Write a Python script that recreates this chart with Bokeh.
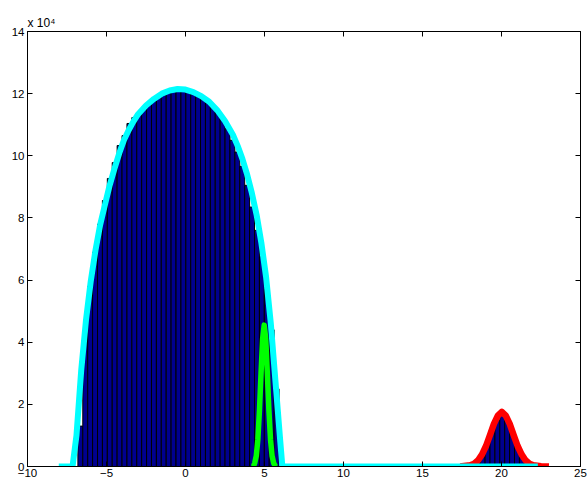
from bokeh.plotting import figure
from bokeh.models import LinearAxis, FixedTicker, Range1d
from bokeh.embed import file_html
from bokeh.resources import INLINE

# ---- data (y values in units of 10^4) ----
bin_width = 0.3105
main_centers = [-6.655, -6.345, -6.034, -5.724, -5.413, -5.103, -4.792, -4.482, -4.171, -3.861,
                -3.550, -3.240, -2.929, -2.619, -2.308, -1.998, -1.687, -1.377, -1.066, -0.756,
                -0.445, -0.135, 0.176, 0.486, 0.797, 1.107, 1.418, 1.728, 2.039, 2.349,
                2.660, 2.970, 3.281, 3.591, 3.902, 4.212, 4.523, 4.833, 5.144, 5.454, 5.765]
main_counts = [1.3, 4.3, 5.8, 6.9, 7.8, 8.56, 9.27, 9.78, 10.33, 10.65,
               11.04, 11.23, 11.39, 11.56, 11.71, 11.84, 11.94, 12.02, 12.07, 12.10,
               12.11, 12.09, 12.05, 11.99, 11.91, 11.81, 11.70, 11.57, 11.40, 11.19,
               10.87, 10.50, 10.12, 9.66, 9.05, 8.35, 7.6, 6.75, 5.7, 4.4, 2.5]
bump_centers = [18.496, 18.806, 19.117, 19.427, 19.738, 20.048, 20.359, 20.669, 20.980, 21.290, 21.601]
bump_counts = [0.16, 0.37, 0.71, 1.13, 1.49, 1.64, 1.49, 1.13, 0.71, 0.37, 0.16]

cyan_x = [-8.02, -7.15, -6.9, -6.6, -6.3, -6.0, -5.7, -5.4, -5.1, -4.8,
          -4.5, -4.2, -3.9, -3.6, -3.3, -3.0, -2.5, -2.0, -1.5, -1.0,
          -0.5, 0.0, 0.5, 1.0, 1.5, 2.0, 2.5, 3.0, 3.3, 3.6,
          3.9, 4.2, 4.5, 4.8, 5.1, 5.4, 5.7, 6.0, 6.13, 22.3]
cyan_y = [0, 0, 1.0, 3.1, 4.7, 5.95, 6.95, 7.78, 8.42, 9.05,
          9.58, 10.07, 10.5, 10.82, 11.1, 11.34, 11.62, 11.83, 12.0, 12.1,
          12.15, 12.13, 12.05, 11.92, 11.74, 11.47, 11.12, 10.68, 10.32, 9.9,
          9.4, 8.8, 8.1, 7.2, 6.1, 4.6, 2.7, 0.8, 0, 0]

green_x = [4.30, 4.38, 4.48, 4.58, 4.68, 4.78, 4.88, 4.98, 5.08, 5.18, 5.28, 5.38, 5.48, 5.58, 5.70]
green_y = [0.0, 0.11, 0.34, 0.87, 1.8, 3.0, 4.1, 4.55, 4.1, 3.0, 1.8, 0.87, 0.34, 0.11, 0.0]

red_x = [17.4, 17.5, 18.02, 18.27, 18.52, 18.77, 19.02, 19.27, 19.52, 19.77, 20.02,
         20.27, 20.52, 20.77, 21.02, 21.27, 21.52, 21.77, 22.02, 22.5, 23.0]
red_y = [0, 0.01, 0.04, 0.09, 0.20, 0.39, 0.66, 1.01, 1.37, 1.64, 1.76,
         1.64, 1.37, 1.01, 0.66, 0.39, 0.20, 0.09, 0.04, 0.01, 0]

x_ticks = [-10, -5, 0, 5, 10, 15, 20, 25]
x_tick_labels = ["\u221210", "\u22125", "0", "5", "10", "15", "20", "25"]
y_ticks = [0, 2, 4, 6, 8, 10, 12, 14]
y_tick_labels = ["0", "2", "4", "6", "8", "10", "12", "14"]
exponent_text = "x 10\u2074"

FONT = "Liberation Sans"
FS = "11.5px"

p = figure(width=588, height=481, output_backend="svg", toolbar_location=None,
           x_range=Range1d(-10, 25), y_range=Range1d(0, 14),
           min_border_left=27, min_border_right=8, min_border_top=31, min_border_bottom=15,
           background_fill_color="white", border_fill_color="white")
p.grid.visible = False
p.outline_line_color = "black"
p.outline_line_width = 1

p.title.text = exponent_text
p.title.align = "left"
p.title.text_font = FONT
p.title.text_font_size = "12px"
p.title.text_font_style = "normal"
p.title.text_color = "black"
p.title.standoff = 4
p.title.offset = 0


def style_axis(ax, ticks, labels, show):
    ax.ticker = FixedTicker(ticks=ticks)
    ax.minor_tick_line_color = None
    ax.major_tick_in = 5
    ax.major_tick_out = 0
    ax.axis_line_color = "black"
    ax.major_tick_line_color = "black"
    ax.major_label_text_font = FONT
    if show:
        ax.major_label_overrides = {t: l for t, l in zip(ticks, labels)}
        ax.major_label_text_color = "black"
        ax.major_label_text_font_size = FS
        ax.major_label_standoff = 3
    else:
        ax.major_label_text_color = None
        ax.major_label_text_font_size = "1px"
        ax.major_label_standoff = 0


style_axis(p.xaxis[0], x_ticks, x_tick_labels, True)
style_axis(p.yaxis[0], y_ticks, y_tick_labels, True)
p.xaxis[0].major_label_standoff = 2
top_ax = LinearAxis()
right_ax = LinearAxis()
style_axis(top_ax, x_ticks, x_tick_labels, False)
style_axis(right_ax, y_ticks, y_tick_labels, False)
p.add_layout(top_ax, "above")
p.add_layout(right_ax, "right")

p.vbar(x=main_centers, width=bin_width, top=main_counts, bottom=0,
       fill_color="#00008F", line_color="black", line_width=1)
p.vbar(x=bump_centers, width=bin_width, top=bump_counts, bottom=0,
       fill_color="#00008F", line_color="black", line_width=1)

p.line(red_x, red_y, line_color="#FF0000", line_width=6.5, line_join="round")
p.line(green_x, green_y, line_color="#00FF00", line_width=5.5, line_join="round")
p.line(cyan_x, cyan_y, line_color="#00FFFF", line_width=6, line_join="round")

open("out.html", "w").write(file_html(p, INLINE))
